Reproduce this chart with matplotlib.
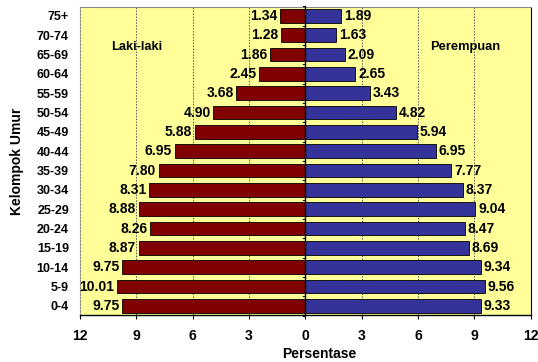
import matplotlib.pyplot as plt
import numpy as np

plt.rcParams['font.family'] = ['Liberation Sans', 'DejaVu Sans']
plt.rcParams['font.weight'] = 'bold'

# Age groups, youngest first
age_groups = ['0-4', '5-9', '10-14', '15-19', '20-24', '25-29', '30-34', '35-39',
              '40-44', '45-49', '50-54', '55-59', '60-64', '65-69', '70-74', '75+']
male_pct = [9.75, 10.01, 9.75, 8.87, 8.26, 8.88, 8.31, 7.80,
            6.95, 5.88, 4.90, 3.68, 2.45, 1.86, 1.28, 1.34]
female_pct = [9.33, 9.56, 9.34, 8.69, 8.47, 9.04, 8.37, 7.77,
              6.95, 5.94, 4.82, 3.43, 2.65, 2.09, 1.63, 1.89]
xticks = [-12, -9, -6, -3, 0, 3, 6, 9, 12]
xtick_labels = ['12', '9', '6', '3', '0', '3', '6', '9', '12']

male_color = '#800000'
female_color = '#333399'

fig = plt.figure(figsize=(5.38, 3.62), dpi=100)
ax = fig.add_axes([0.1487, 0.130, 0.838, 0.851])
ax.set_facecolor('#FFFF99')

y = np.arange(len(age_groups))
male = -np.array(male_pct)
female = np.array(female_pct)

ax.barh(y, male, height=0.71, color=male_color, edgecolor='black', linewidth=0.6, zorder=3)
ax.barh(y, female, height=0.71, color=female_color, edgecolor='black', linewidth=0.6, zorder=3)

# value labels at the bar ends
for yi, m, f in zip(y, male, female):
    ax.text(m - 0.15, yi, f'{-m:.2f}', ha='right', va='center', fontsize=10,
            fontweight='bold', zorder=4)
    ax.text(f + 0.15, yi, f'{f:.2f}', ha='left', va='center', fontsize=10,
            fontweight='bold', zorder=4)

ax.set_xlim(-12, 12)
ax.set_ylim(-0.47, len(age_groups) - 0.53)

for gx in [-9, -6, -3, 3, 6, 9]:
    ax.axvline(gx, color='#555555', linestyle=(0, (1.5, 1.5)), linewidth=0.7, zorder=1)
ax.axvline(0, color='black', linewidth=1.0, zorder=5)
# small ticks along the zero line between the age groups
for b in np.arange(-0.5, len(age_groups), 1.0):
    ax.plot([-0.12, 0], [b, b], color='black', linewidth=0.8, zorder=5,
            clip_on=False)

ax.set_xticks(xticks)
ax.set_xticklabels(xtick_labels, fontsize=10, fontweight='bold')
ax.set_yticks(y)
ax.set_yticklabels(age_groups, fontsize=9, fontweight='bold')
ax.tick_params(axis='y', length=0, pad=8)
ax.tick_params(axis='x', length=3, direction='out', pad=7)

for side in ['top', 'left']:
    ax.spines[side].set_color('#888888')
    ax.spines[side].set_linewidth(0.8)
ax.spines['left'].set_linestyle((0, (1.5, 1.5)))
ax.spines['right'].set_color('black')
ax.spines['bottom'].set_color('black')
ax.spines['bottom'].set_linewidth(1.0)

ax.text(-9, 13.37, 'Laki-laki', ha='center', va='center', fontsize=9.3, fontweight='bold')
ax.text(8.5, 13.37, 'Perempuan', ha='center', va='center', fontsize=9.3, fontweight='bold')

ax.set_xlabel('Persentase', fontsize=10, fontweight='bold', labelpad=3, x=0.53)
ax.set_ylabel('Kelompok Umur', fontsize=10, fontweight='bold', labelpad=9)

fig.savefig('out.png', dpi=100, facecolor='white')
